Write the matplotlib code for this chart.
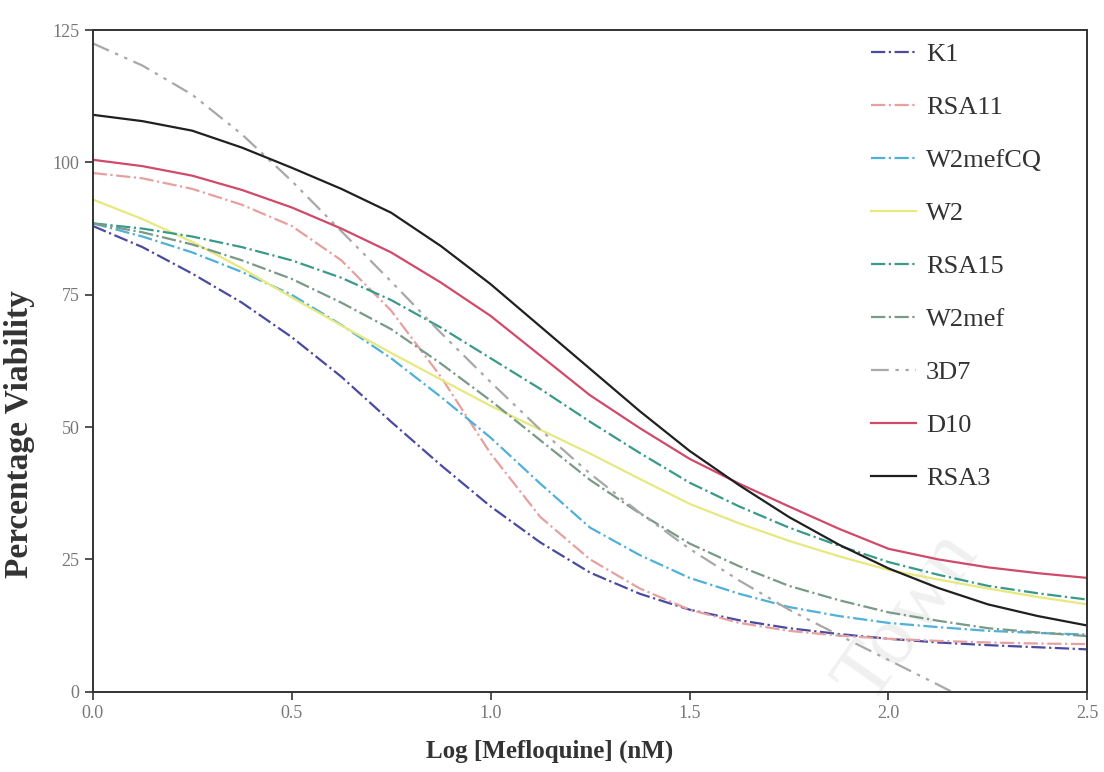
import numpy as np
import matplotlib
matplotlib.use('Agg')
import matplotlib.pyplot as plt

plt.rcParams['font.family'] = ['Liberation Serif', 'DejaVu Serif']

# log concentration (x) and viability (%)
log_conc = [0.0, 0.125, 0.25, 0.375, 0.5, 0.625, 0.75, 0.875, 1.0, 1.125, 1.25,
            1.375, 1.5, 1.625, 1.75, 1.875, 2.0, 2.125, 2.25, 2.375, 2.5]

k1 = [88, 84, 79, 73.5, 67, 59.5, 51, 42.8, 35, 28.2, 22.5,
      18.5, 15.5, 13.5, 12, 10.9, 10, 9.3, 8.8, 8.4, 8]
rsa11 = [98, 97, 95, 92, 88, 81.5, 72, 59.5, 45, 33, 25,
         19.5, 15.5, 13, 11.5, 10.6, 10, 9.6, 9.3, 9.1, 9]
w2mefcq = [88.5, 86, 83, 79.3, 75, 69.3, 63, 55.7, 48, 39.3, 31,
           25.8, 21.5, 18.5, 16, 14.3, 13, 12.2, 11.5, 11.1, 10.8]
w2 = [93, 89.3, 85, 80, 74.5, 69.2, 64, 59, 54, 49.5, 45,
      40.2, 35.5, 31.8, 28.5, 25.6, 23, 21.2, 19.5, 17.9, 16.5]
rsa15 = [88.5, 87.5, 86, 84, 81.5, 78.2, 74, 68.8, 63, 57.2, 51,
         45.1, 39.5, 35, 31, 27.6, 24.5, 22.1, 20, 18.6, 17.4]
w2mef = [88.5, 86.8, 84.5, 81.5, 78, 73.5, 68.5, 62, 55, 47.5, 40,
         33.7, 28, 23.7, 20, 17.3, 15, 13.4, 12, 11.2, 10.5]
d3d7 = [122.5, 118.3, 112.8, 105.3, 96.5, 87, 77.5, 67.8, 58.5, 49.5, 41.2,
        33.8, 27, 21, 15.5, 10.7, 6, 1.3, -3.5, -7.5, -11]
d10 = [100.5, 99.3, 97.5, 94.8, 91.5, 87.5, 83, 77.3, 71, 63.5, 56,
       49.8, 44, 39.3, 35, 30.8, 27, 25, 23.5, 22.4, 21.5]
rsa3 = [109, 107.8, 106, 102.8, 99, 95, 90.5, 84.2, 77, 69, 61,
        53, 45.5, 39, 33, 27.8, 23.3, 19.6, 16.5, 14.3, 12.5]

labels = ['K1', 'RSA11', 'W2mefCQ', 'W2', 'RSA15', 'W2mef', '3D7', 'D10', 'RSA3']
series = [k1, rsa11, w2mefcq, w2, rsa15, w2mef, d3d7, d10, rsa3]
colors = ['#4a4aa0', '#e6a0a0', '#4fb0d8', '#e8e880', '#3a9a8a',
          '#7a9a88', '#a8a8a8', '#d04a6a', '#202020']
styles = ['-.', '-.', '-.', '-', '-.', '-.', (0, (8, 3, 1.5, 3, 1.5, 3)), '-', '-']

fig = plt.figure(figsize=(11.04, 7.72), dpi=100)
ax = fig.add_axes([0.084, 0.104, 0.901, 0.857])

for ys, lab, c, ls in zip(series, labels, colors, styles):
    ax.plot(log_conc, ys, color=c, linestyle=ls, linewidth=1.6, label=lab)

ax.set_xlim(0, 2.5)
ax.set_ylim(0, 125)
ax.set_xticks([0.0, 0.5, 1.0, 1.5, 2.0, 2.5])
ax.set_xticklabels(['0.0', '0.5', '1.0', '1.5', '2.0', '2.5'])
ax.set_yticks([0, 25, 50, 75, 100, 125])
ax.tick_params(direction='out', length=6, width=1.2, labelsize=13,
               labelcolor='#777777', color='#333333')
for sp in ax.spines.values():
    sp.set_linewidth(1.4)
    sp.set_color('#333333')

ax.set_xlabel('Log [Mefloquine] (nM)', fontsize=18, fontweight='bold',
              color='#333333')
ax.xaxis.set_label_coords(0.459, -0.072)
ax.set_ylabel('Percentage Viability', fontsize=24, fontweight='bold',
              color='#333333')
ax.yaxis.set_label_coords(-0.058, 0.39)

leg = ax.legend(loc='upper left', bbox_to_anchor=(0.772, 0.997), frameon=False,
                fontsize=19, handlelength=1.7, labelspacing=1.12,
                handletextpad=0.38, borderaxespad=0)
for t in leg.get_texts():
    t.set_color('#333333')

# faint watermark
ax.text(2.05, 14, 'Town', fontsize=60, color='#f0f0f0', rotation=55,
        ha='center', va='center', zorder=0)

plt.savefig('out.png', dpi=100)
